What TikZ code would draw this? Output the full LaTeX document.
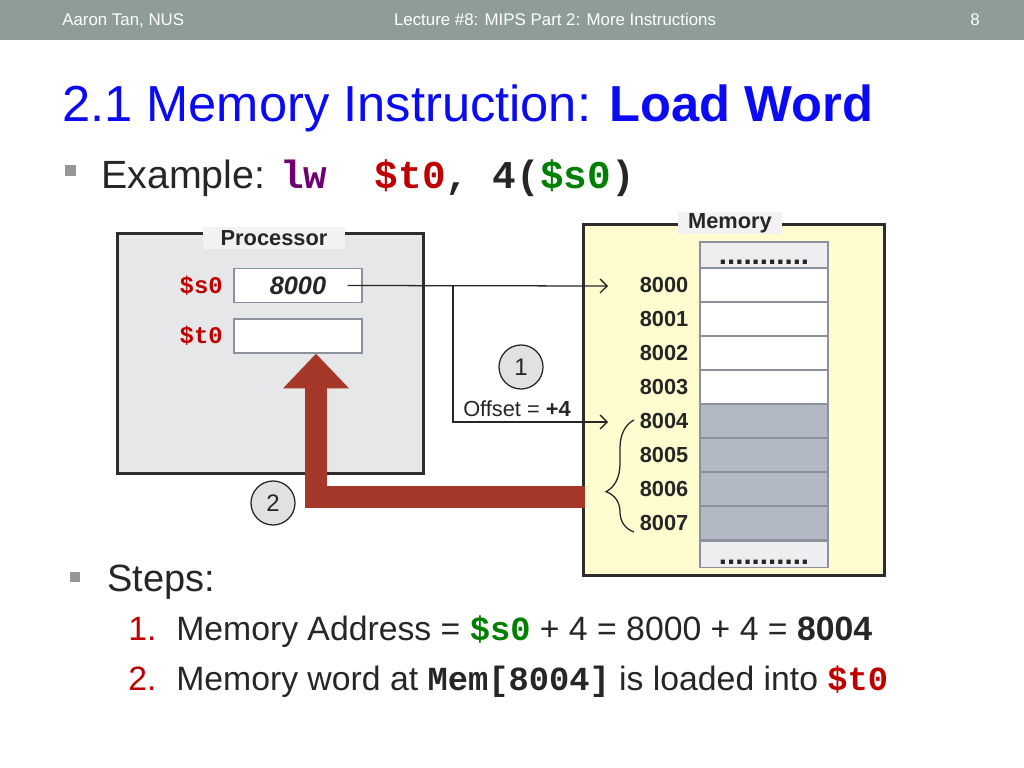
\documentclass[tikz,border=0pt]{standalone}
\usepackage{fontspec}
\setmainfont{Liberation Sans}
\setmonofont{Liberation Mono}
\usepackage{xcolor}
\usetikzlibrary{arrows.meta, calc, positioning, decorations.pathreplacing}
\definecolor{hdrgray}{RGB}{142,158,150}
\definecolor{txtdark}{RGB}{38,38,38}
\definecolor{regred}{RGB}{192,0,0}
\definecolor{reggreen}{RGB}{0,128,0}
\definecolor{oppurple}{RGB}{112,0,112}
\definecolor{titleblue}{RGB}{10,10,245}
\definecolor{bulgray}{RGB}{150,150,150}
\definecolor{boxline}{RGB}{45,45,45}
\definecolor{procfill}{RGB}{230,231,232}
\definecolor{memfill}{RGB}{255,253,208}
\definecolor{lblfill}{RGB}{242,242,242}
\definecolor{cellline}{RGB}{140,145,158}
\definecolor{cellgray}{RGB}{178,184,196}
\definecolor{dotfill}{RGB}{238,238,240}
\definecolor{circfill}{RGB}{225,225,225}
\definecolor{loadred}{RGB}{165,56,40}
\newcommand{\fsz}[1]{\fontsize{#1}{#1}\selectfont}
\tikzstyle{hdr} = [text=white, font=\fsz{12}, inner sep=0pt]
\tikzstyle{plain} = [anchor=base west, text=txtdark, inner sep=0pt]
\tikzstyle{bullet} = [fill=bulgray, minimum size=0.27cm, inner sep=0pt]
\tikzstyle{unitbox} = [draw=boxline, line width=2.1pt, inner sep=0pt]
\tikzstyle{boxlabel} = [font=\fsz{15.5}\bfseries, text=txtdark, inner sep=0pt, minimum height=0.55cm]
\tikzstyle{reg} = [draw=cellline, fill=white, line width=0.9pt, minimum width=3.2cm, minimum height=0.85cm, inner sep=0pt]
\tikzstyle{cell} = [draw=cellline, line width=0.9pt, minimum width=3.2cm, minimum height=0.85cm, inner sep=0pt]
\tikzstyle{dotcell} = [cell, fill=dotfill, minimum height=0.65cm]
\tikzstyle{dots} = [anchor=base, font=\fsz{21}\bfseries, text=txtdark, inner sep=0pt]
\tikzstyle{addr} = [font=\fsz{15.5}\bfseries, text=txtdark, inner sep=0pt]
\tikzstyle{regname} = [font=\fsz{17}\ttfamily\bfseries, text=regred, inner sep=0pt, anchor=base east]
\tikzstyle{stepnum} = [draw=txtdark, fill=circfill, circle, line width=0.9pt, minimum size=1.1cm, inner sep=0pt, font=\fsz{17}, text=txtdark]
\tikzstyle{ptr} = [-{Straight Barb[length=5pt,width=10pt]}, line width=0.9pt, draw=txtdark]
\tikzstyle{brace} = [decorate, decoration={brace, amplitude=0.7cm, aspect=0.36}, line width=0.9pt, draw=txtdark]
\tikzstyle{loadarrow} = [-{Triangle[length=0.87cm,width=1.6cm]}, line width=0.55cm, draw=loadred]

\begin{document}
\begin{tikzpicture}[x=0.025cm, y=-0.025cm]
		\useasboundingbox (0,0) rectangle (1024,768);
		\fill[hdrgray] (0,0) rectangle (1024,40);
		\node (author)[hdr, anchor=base west] at (62,26) {Aaron Tan, NUS};
		\node (lecture)[hdr, anchor=base] at (555,26) {Lecture \#8: MIPS Part 2: More Instructions};
		\node (page)[hdr, anchor=base] at (975,26) {8};
		\node (title)[plain, text=titleblue, font=\fsz{36}] at (62,122) {2.1 Memory Instruction: \textbf{Load Word}};
		\node (bul1)[bullet] at (70.5,170.5) {};
		\node (example)[plain, font=\fsz{28}] at (101,188) {Example:};
		\node (code)[plain, font=\fsz{28}\ttfamily\bfseries] at (280,188) {\textcolor{oppurple}{lw}\ \ \textcolor{regred}{\$t0}, 4(\textcolor{reggreen}{\$s0})};

		\node (proc)[unitbox, fill=procfill, minimum width=7.625cm, minimum height=5.975cm] at (270.5,353.5) {};
		\node (proclbl)[boxlabel, fill=lblfill, minimum width=3.55cm] at (274,238) {Processor};
		\node (s0reg)[reg, font=\fsz{18}\bfseries\itshape, text=txtdark] at (298,285.5) {8000};
		\node (t0reg)[reg] at (298,336) {};
		\node (s0name)[regname] at (223,293) {\$s0};
		\node (t0name)[regname] at (223,343) {\$t0};

		\node (mem)[unitbox, fill=memfill, minimum width=7.5cm, minimum height=8.75cm] at (734,400) {};
		\node (memlbl)[boxlabel, fill=lblfill, minimum width=2.6cm] at (730,223) {Memory};
		\node (dottop)[dotcell] at (764,255) {};
		\node (dotbot)[dotcell] at (764,554.5) {};
		\node [dots] at (764,264) {...........};
		\node [dots] at (764,564) {...........};
		\foreach \i/\shade in {0/white,1/white,2/white,3/white,4/cellgray,5/cellgray,6/cellgray,7/cellgray} {
			\node (cell\i)[cell, fill=\shade] at (764,{285+34*\i}) {};
			\node (a\i)[addr] at (664,{285+34*\i}) {800\i};
		}

		\coordinate (split) at (453,286);
		\coordinate (tip0) at (608,286);
		\coordinate (tip4) at (608,422);
		\draw[ptr] ([xshift=-0.375cm]s0reg.east) -- (tip0);
		\draw[ptr] (split) |- (tip4);
		\node (step1)[stepnum] at (521,367) {1};
		\node (offset)[plain, anchor=base, font=\fsz{15.5}] at (517,416) {Offset = \textbf{+4}};
		\draw[brace] (634,532) -- (634,420);

		\draw[loadarrow] ($(mem.west)+(3,97)$) -| ($(t0reg.south)+(18,0)$);
		\node (step2)[stepnum] at (273,503) {2};

		\node (bul2)[bullet, minimum size=0.25cm] at (75,577) {};
		\node (steps)[plain, font=\fsz{27}] at (107,591) {Steps:};
		\node (num1)[plain, text=regred, font=\fsz{24}] at (128,640) {1.};
		\node (item1)[plain, font=\fsz{24}] at (176,640) {Memory Address = \textcolor{reggreen}{\ttfamily\bfseries \$s0} + 4 = 8000 + 4 = \textbf{8004}};
		\node (num2)[plain, text=regred, font=\fsz{24}] at (128,690) {2.};
		\node (item2)[plain, font=\fsz{24}] at (176,690) {Memory word at {\ttfamily\bfseries Mem[8004]} is loaded into \textcolor{regred}{\ttfamily\bfseries \$t0}};
\end{tikzpicture}
\end{document}
